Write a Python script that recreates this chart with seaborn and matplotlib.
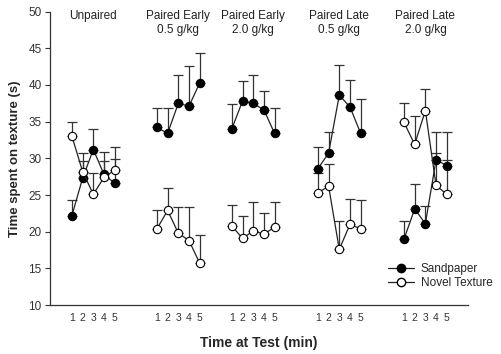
import numpy as np
import pandas as pd
import matplotlib
matplotlib.use('Agg')
from matplotlib import pyplot as plt
from matplotlib.lines import Line2D
import seaborn as sns

# Data : mean time on texture (s) and SEM
groups = ['Unpaired', 'Paired Early\n0.5 g/kg', 'Paired Early\n2.0 g/kg',
          'Paired Late\n0.5 g/kg', 'Paired Late\n2.0 g/kg']
minutes = [1, 2, 3, 4, 5]

sand_mean = [[22.2, 27.3, 31.2, 27.8, 26.6],
             [34.2, 33.4, 37.5, 37.1, 40.3],
             [34.0, 37.8, 37.5, 36.6, 33.4],
             [28.6, 30.7, 38.6, 37.0, 33.4],
             [19.0, 23.1, 21.1, 29.8, 29.0]]
sand_sem = [[2.1, 2.4, 2.8, 3.0, 3.3],
            [2.6, 3.4, 3.9, 5.5, 4.0],
            [3.4, 2.7, 3.9, 2.6, 3.5],
            [2.9, 2.9, 4.1, 3.7, 4.7],
            [2.5, 3.4, 2.4, 3.8, 4.6]]

novel_mean = [[33.0, 28.2, 25.1, 27.4, 28.4],
              [20.4, 22.9, 19.8, 18.8, 15.7],
              [20.8, 19.1, 20.1, 19.7, 20.6],
              [25.3, 26.2, 17.6, 21.0, 20.4],
              [34.9, 31.9, 36.5, 26.3, 25.1]]
novel_sem = [[2.0, 2.5, 2.9, 2.2, 3.1],
             [2.5, 3.0, 3.6, 4.6, 3.8],
             [2.8, 3.1, 4.0, 2.8, 3.5],
             [2.7, 3.0, 3.9, 3.5, 3.9],
             [2.7, 3.8, 2.9, 4.4, 4.7]]

# layout : where each block of 5 minutes starts on the x axis
group_start = [2.05, 10.0, 17.0, 25.05, 33.1]

rows = []
for g, name in enumerate(groups):
    for i, m in enumerate(minutes):
        x = group_start[g] + (m - 1)
        rows.append(dict(group=g, x=x, minute=m, texture='Sandpaper',
                         y=sand_mean[g][i], sem=sand_sem[g][i]))
        rows.append(dict(group=g, x=x, minute=m, texture='Novel Texture',
                         y=novel_mean[g][i], sem=novel_sem[g][i]))
df = pd.DataFrame(rows)

sns.set_style('white')
plt.rcParams['font.family'] = ['Liberation Sans', 'DejaVu Sans']

fig = plt.figure(figsize=(5.01, 3.54), dpi=100)
ax = fig.add_axes([0.0998, 0.138, 0.834, 0.8295])

face = {'Sandpaper': 'black', 'Novel Texture': 'white'}
zo = {'Sandpaper': 3, 'Novel Texture': 4}
for g in range(len(groups)):
    for tex in ['Sandpaper', 'Novel Texture']:
        d = df[(df.group == g) & (df.texture == tex)]
        ax.errorbar(d['x'], d['y'], yerr=[np.zeros(len(d)), d['sem']], fmt='none',
                    ecolor='#333333', elinewidth=0.9, capsize=3.3, capthick=0.9,
                    zorder=zo[tex] - 2)
        sns.lineplot(data=d, x='x', y='y', ax=ax, color='#222222', linewidth=0.9,
                     marker='o', markersize=6.0, markerfacecolor=face[tex],
                     markeredgecolor='black', markeredgewidth=0.8,
                     zorder=zo[tex], legend=False)

# group titles
for g, name in enumerate(groups):
    ax.text(group_start[g] + 2, 50.15, name, ha='center', va='top',
            fontsize=8.5, linespacing=1.15, color='#222222')

ax.set_xlim(0, 39.07)
ax.set_ylim(10, 50)
ax.set_yticks(range(10, 51, 5))
ax.set_xticks(df.loc[df.texture == 'Sandpaper', 'x'])
ax.set_xticklabels(df.loc[df.texture == 'Sandpaper', 'minute'])
ax.tick_params(axis='x', length=0, pad=5.5, labelsize=7.5, colors='#333333')
ax.tick_params(axis='y', length=3.6, width=0.8, pad=2.5, labelsize=8.5,
               colors='#333333', left=True, direction='out')
for s in ['top', 'right']:
    ax.spines[s].set_visible(False)
for s in ['left', 'bottom']:
    ax.spines[s].set_color('#333333')
    ax.spines[s].set_linewidth(0.9)

ax.set_xlabel('Time at Test (min)', fontsize=10, fontweight='bold', labelpad=9.5)
ax.set_ylabel('Time spent on texture (s)', fontsize=9.5, fontweight='bold', labelpad=5.5)

handles = [Line2D([], [], color='#222222', lw=0.9, marker='o', markersize=6.0,
                  markerfacecolor='black', markeredgecolor='black'),
           Line2D([], [], color='#222222', lw=0.9, marker='o', markersize=6.0,
                  markerfacecolor='white', markeredgecolor='black')]
ax.legend(handles, ['Sandpaper', 'Novel Texture'], loc='lower right',
          bbox_to_anchor=(1.085, 0.02), frameon=False, fontsize=8.5,
          handlelength=2.2, handletextpad=0.6, labelspacing=0.15)

fig.savefig('out.png', dpi=100)
